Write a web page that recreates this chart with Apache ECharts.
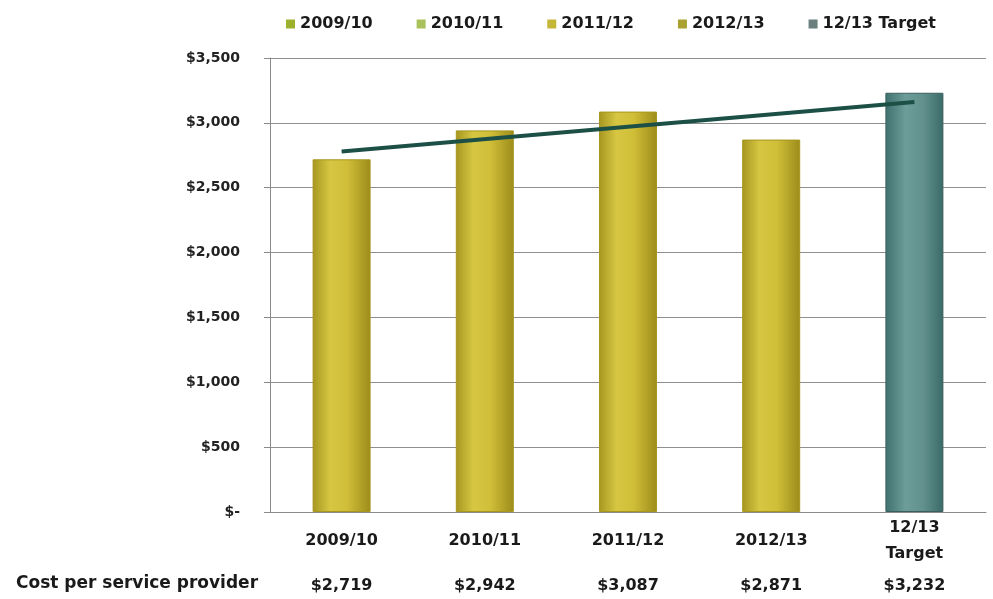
<!DOCTYPE html>
<html>
<head>
<meta charset="utf-8">
<script src="https://cdn.jsdelivr.net/npm/echarts@6/dist/echarts.min.js"></script>
<style>
  html, body { margin: 0; padding: 0; background: #ffffff; }
  #chart { width: 993px; height: 599px; }
</style>
</head>
<body>
<div id="chart"></div>
<script>
// Categories (fiscal years) and the cost per service provider
const categories = ['2009/10', '2010/11', '2011/12', '2012/13', '12/13\nTarget'];
const seriesNames = ['2009/10', '2010/11', '2011/12', '2012/13', '12/13 Target'];
const costValues = [2719, 2942, 3087, 2871, 3232];
// Trend line end points (first and last category)
const trendStart = 2780;
const trendEnd = 3160;
// Y axis range
const yMin = 0, yMax = 3500, yStep = 500;
const rowHeader = 'Cost per service provider';

const fontFamily = '"DejaVu Sans", sans-serif';

function money(v) {
  return '$' + v.toLocaleString('en-US');
}

const goldFill = {
  type: 'linear', x: 0, y: 0, x2: 1, y2: 0,
  colorStops: [
    { offset: 0, color: '#a69620' },
    { offset: 0.3, color: '#d6c642' },
    { offset: 0.6, color: '#d0be38' },
    { offset: 1, color: '#9c8c1a' }
  ]
};
const tealFill = {
  type: 'linear', x: 0, y: 0, x2: 1, y2: 0,
  colorStops: [
    { offset: 0, color: '#3f716f' },
    { offset: 0.35, color: '#6d9d99' },
    { offset: 0.65, color: '#62918d' },
    { offset: 1, color: '#3a6a68' }
  ]
};
const legendColors = ['#9db02e', '#a9c25c', '#c5b637', '#a9a130', '#6b7f7e'];

const barSeries = seriesNames.map((name, i) => ({
  name: name,
  type: 'bar',
  stack: 'cost',
  barWidth: 58,
  xAxisIndex: 0,
  itemStyle: {
    color: i === 4 ? tealFill : goldFill,
    borderColor: i === 4 ? '#3a5f5d' : '#a8961e',
    borderWidth: 1
  },
  data: costValues.map((v, j) => (j === i ? v : '-'))
}));

const trendData = categories.map((c, j) =>
  j === 0 ? trendStart : (j === categories.length - 1 ? trendEnd : '-'));

const chart = echarts.init(document.getElementById('chart'), null, { renderer: 'canvas' });

chart.setOption({
  animation: false,
  backgroundColor: '#ffffff',
  textStyle: { fontFamily: fontFamily },
  legend: {
    top: 11,
    left: 281,
    itemWidth: 9,
    itemHeight: 9,
    itemGap: 44,
    icon: 'rect',
    textStyle: { fontFamily: fontFamily, fontSize: 16, fontWeight: 'bold', color: '#1a1a1a' },
    data: seriesNames.map((n, i) => ({
      name: n,
      itemStyle: { color: legendColors[i], borderWidth: 0 }
    }))
  },
  grid: { left: 270, right: 7, top: 58, bottom: 87, containLabel: false },
  xAxis: [
    {
      type: 'category',
      data: categories,
      axisLine: { show: true, lineStyle: { color: '#8a8a8a', width: 1 } },
      axisTick: { show: false },
      axisLabel: {
        interval: 0,
        margin: 29,
        verticalAlign: 'middle',
        lineHeight: 26,
        fontFamily: fontFamily,
        fontSize: 16,
        fontWeight: 'bold',
        color: '#1a1a1a'
      }
    },
    {
      type: 'category',
      position: 'bottom',
      offset: 74,
      data: costValues.map(money),
      axisLine: { show: false },
      axisTick: { show: false },
      splitLine: { show: false },
      axisLabel: {
        interval: 0,
        margin: 0,
        verticalAlign: 'middle',
        fontFamily: fontFamily,
        fontSize: 16,
        fontWeight: 'bold',
        color: '#1a1a1a'
      }
    }
  ],
  yAxis: {
    type: 'value',
    min: yMin,
    max: yMax,
    interval: yStep,
    axisLine: { show: true, lineStyle: { color: '#8a8a8a', width: 1 } },
    axisTick: { show: true, length: 6, lineStyle: { color: '#8a8a8a' } },
    splitLine: { show: true, lineStyle: { color: '#8f8f8f', width: 1 } },
    axisLabel: {
      margin: 30,
      fontFamily: fontFamily,
      fontSize: 14,
      fontWeight: 'bold',
      color: '#222222',
      formatter: v => (v === 0 ? '$-' : money(v))
    }
  },
  graphic: [
    {
      type: 'text',
      left: 16,
      top: 575,
      style: {
        text: rowHeader,
        fontFamily: fontFamily,
        fontSize: 17,
        fontWeight: 'bold',
        fill: '#1a1a1a'
      }
    }
  ],
  series: barSeries.concat([
    {
      name: 'Trend',
      type: 'line',
      xAxisIndex: 0,
      data: trendData,
      connectNulls: true,
      symbol: 'none',
      z: 5,
      lineStyle: { color: '#1c5046', width: 4 }
    }
  ])
});
</script>
</body>
</html>
